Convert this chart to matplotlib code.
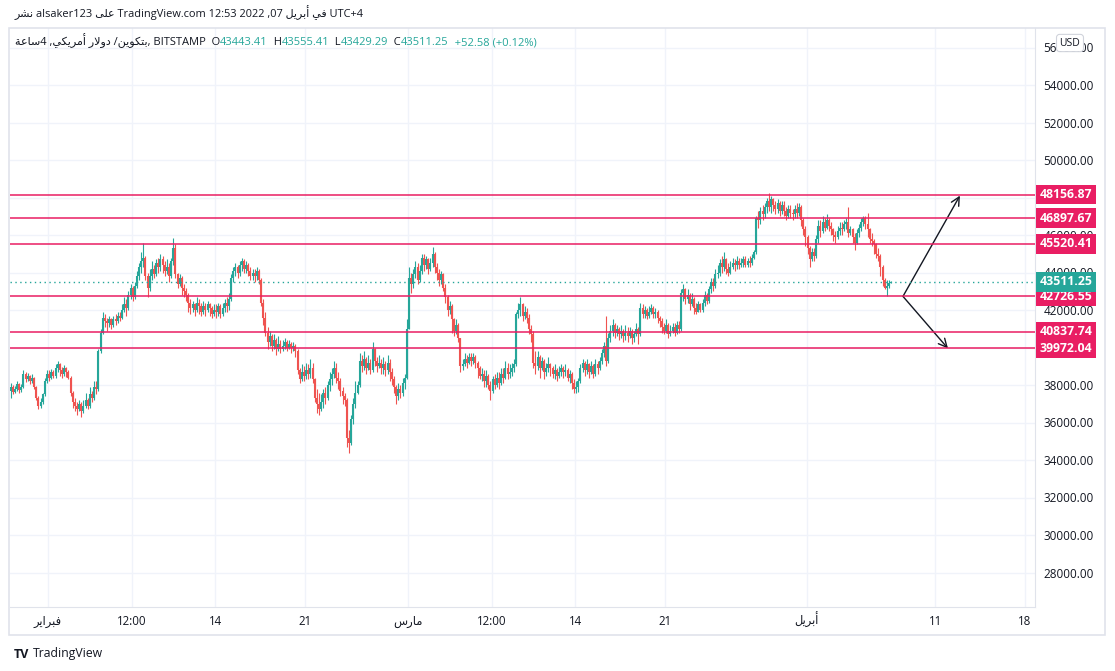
import matplotlib
matplotlib.use('Agg')
import matplotlib.pyplot as plt
import matplotlib.transforms as mtransforms
from matplotlib.patches import Rectangle
import numpy as np

plt.rcParams['font.family'] = ['Open Sans', 'DejaVu Sans']

# 4h BTC/USD candles, Jan 29 00:00 -> Apr 7 12:00 (UTC+4)
first_open = 37700
closes = [
    37900, 37650, 37800, 38050, 37750, 37900,
    38600, 38300, 38500, 38200, 38400, 37900,
    37300, 36900, 37100, 37500, 38200, 38600,
    38400, 38700, 38500, 38900, 39100, 38800,
    38600, 38900, 38700, 38400, 37600, 37100,
    36900, 36700, 37000, 36600, 36900, 37200,
    36900, 37500, 37300, 37900, 37800, 39800,
    40800, 41600, 41400, 41300, 41500, 41200,
    41500, 41400, 41700, 41600, 42000, 42300,
    42100, 42800, 43200, 42700, 43300, 43800,
    44300, 44600, 44800, 43800, 43200, 43800,
    44200, 43900, 44500, 44300, 44700, 44400,
    44100, 44300, 43800, 44600, 45300, 43900,
    43400, 43700, 43200, 43000, 42800, 42400,
    42100, 42300, 42000, 42400, 42200, 41900,
    42200, 42000, 42300, 42100, 41800, 42000,
    41900, 42200, 41800, 42100, 42400, 42200,
    42600, 43700, 44100, 44300, 44000, 44400,
    44600, 44200, 44400, 44100, 43800, 44000,
    43800, 44100, 43600, 42400, 41600, 40800,
    40300, 40600, 40100, 40400, 39900, 40200,
    39900, 40100, 40300, 40000, 40200, 40000,
    40100, 39800, 38800, 38300, 38700, 38500,
    38800, 38600, 38900, 38300, 37300, 37000,
    36700, 37100, 37600, 37300, 38000, 38300,
    38600, 38900, 38400, 38200, 37700, 37400,
    37200, 35200, 34900, 36200, 37000, 37600,
    38000, 39300, 39000, 39400, 38900, 39200,
    38800, 39900, 39300, 39000, 39200, 38900,
    39100, 38800, 39200, 38700, 38300, 37900,
    37400, 37800, 37600, 38100, 38400, 41000,
    43700, 43400, 43900, 44300, 43600, 44100,
    44800, 44400, 44700, 44200, 44500, 45000,
    44300, 44000, 43600, 43900, 43200, 42700,
    42000, 42200, 41500, 40900, 41200, 40500,
    39000, 39100, 39400, 39200, 39500, 39300,
    39500, 39200, 38900, 38500, 38600, 38200,
    38500, 38000, 37700, 38300, 38000, 38400,
    38100, 38600, 38400, 38900, 38600, 38700,
    38900, 39100, 41800, 42000, 42300, 41700,
    41900, 41600, 41000, 40700, 39200, 39000,
    39500, 38900, 39300, 38700, 38900, 39100,
    38900, 38600, 38800, 38500, 38700, 38900,
    38700, 38800, 38400, 38600, 38100, 37800,
    37900, 38200, 38900, 39200, 38800, 39100,
    38700, 39000, 38600, 39100, 38900, 39300,
    39700, 40100, 39300, 40500, 40900, 41200,
    40800, 41000, 40700, 40900, 40600, 40800,
    40600, 40900, 40500, 40700, 41000, 40700,
    42100, 41800, 42000, 41700, 41900, 42100,
    41800, 41900, 41600, 41400, 41100, 40900,
    41200, 40700, 40900, 41100, 40800, 41200,
    41000, 42900, 43100, 42600, 42800, 42300,
    42600, 42100, 41900, 42300, 42000, 42400,
    42800, 42500, 43100, 43500, 43300, 43900,
    44000, 44500, 44300, 44700, 44200, 44000,
    44300, 44500, 44400, 44600, 44400, 44500,
    44700, 44400, 44600, 44500, 44800, 45100,
    46900, 46800, 47300, 47100, 47500, 47800,
    47500, 47900, 47600, 47400, 47700, 47300,
    47600, 47300, 47000, 47400, 47200, 47100,
    47400, 47200, 47500, 46800, 46300, 45900,
    45300, 44700, 45100, 44900, 45800, 46500,
    46200, 46700, 46400, 46800, 46500, 46300,
    46000, 45900, 46200, 46400, 46300, 46600,
    46700, 46100, 46300, 45900, 45600, 46100,
    46400, 46700, 46900, 46600, 46300, 45800,
    45700, 45500, 45000, 44900, 44300, 43600,
    43200, 43300, 43443.41, 43511.25,
]
highs = [
    38100, 38000, 37950, 38200, 38100, 38050,
    38800, 38700, 38650, 38550, 38600, 38450,
    37950, 37400, 37300, 37600, 38400, 38800,
    38800, 38850, 38800, 39100, 39300, 39200,
    38950, 39050, 38950, 38800, 38500, 37700,
    37300, 37100, 37200, 37100, 37200, 37600,
    37300, 37900, 37700, 38200, 38200, 39900,
    41000, 41900, 41800, 41600, 41700, 41600,
    41700, 41800, 41900, 41900, 42300, 42700,
    42600, 43000, 43400, 43300, 43500, 44100,
    44500, 45100, 45550, 44900, 44000, 44200,
    44600, 44400, 44700, 44800, 45000, 44900,
    44600, 44700, 44500, 44800, 45850, 45500,
    44000, 43900, 43800, 43400, 43200, 42900,
    42600, 42500, 42400, 42700, 42600, 42400,
    42500, 42400, 42500, 42400, 42200, 42300,
    42300, 42400, 42300, 42400, 42600, 42700,
    42900, 43900, 44300, 44500, 44400, 44600,
    44800, 44700, 44600, 44500, 44300, 44200,
    44200, 44300, 44200, 43700, 42600, 41900,
    41100, 40900, 40700, 40700, 40500, 40600,
    40400, 40400, 40500, 40400, 40400, 40300,
    40300, 40200, 39900, 38900, 39100, 39000,
    39200, 39100, 39400, 39200, 38400, 37800,
    37600, 37500, 37800, 37900, 38200, 38700,
    38900, 39300, 39200, 38700, 38400, 37900,
    37600, 37300, 35600, 36400, 37300, 38200,
    38200, 39700, 39600, 39800, 39500, 39600,
    39400, 40300, 40000, 39500, 39600, 39400,
    39500, 39300, 39600, 39400, 38900, 38500,
    38000, 38100, 38000, 38400, 38600, 41500,
    44300, 44000, 44200, 44600, 44500, 44400,
    45000, 45000, 44900, 44800, 44800, 45350,
    45100, 44500, 44200, 44100, 44000, 43400,
    42800, 42500, 42300, 41600, 41500, 41300,
    40500, 39400, 39700, 39600, 39700, 39700,
    39700, 39600, 39300, 39000, 38900, 38800,
    38800, 38600, 38200, 38500, 38600, 38700,
    38700, 38900, 38900, 39300, 39200, 39100,
    39200, 39400, 41900, 42400, 42700, 42400,
    42200, 42100, 41800, 41200, 40900, 39800,
    39800, 39600, 39500, 39400, 39200, 39500,
    39200, 39000, 39100, 38900, 39000, 39100,
    39000, 39100, 38900, 38800, 38700, 38300,
    38200, 38400, 39100, 39400, 39300, 39400,
    39200, 39300, 39100, 39400, 39300, 39500,
    39900, 40300, 41700, 40800, 41200, 41500,
    41300, 41200, 41100, 41200, 41000, 41200,
    41100, 41100, 41000, 40900, 41300, 41100,
    42400, 42300, 42200, 42100, 42200, 42300,
    42200, 42100, 42000, 41700, 41600, 41300,
    41500, 41300, 41200, 41300, 41300, 41400,
    41400, 43100, 43400, 43200, 43100, 42900,
    42900, 42700, 42400, 42500, 42400, 42600,
    43000, 42900, 43300, 43700, 43700, 44200,
    44400, 44700, 44900, 45100, 44800, 44500,
    44600, 44800, 44700, 44900, 44800, 44800,
    44900, 44900, 44800, 44900, 45000, 45200,
    47000, 47300, 47500, 47600, 47700, 48000,
    48250, 48100, 48000, 47800, 47900, 47800,
    47800, 47800, 47500, 47600, 47600, 47400,
    47600, 47700, 47700, 47600, 46900, 46500,
    46000, 45400, 45300, 45300, 46000, 46800,
    46800, 47000, 46900, 47100, 46900, 46700,
    46400, 46200, 46500, 46700, 46700, 46800,
    46900, 47500, 46500, 46400, 46100, 46300,
    46600, 46900, 47000, 47000, 47200, 46400,
    46100, 45800, 45600, 45300, 45000, 44400,
    43700, 43600, 43600, 43555.41,
]
lows = [
    37300, 37500, 37550, 37700, 37600, 37650,
    37850, 38150, 38200, 38050, 38100, 37800,
    37200, 36700, 36800, 37000, 37400, 38100,
    38200, 38300, 38350, 38400, 38700, 38500,
    38400, 38500, 38450, 38300, 37400, 36800,
    36600, 36400, 36600, 36300, 36500, 36800,
    36700, 36800, 37100, 37200, 37500, 37700,
    39700, 40700, 41100, 40900, 41100, 41000,
    41100, 41200, 41300, 41400, 41500, 41900,
    41700, 42000, 42600, 42500, 42600, 43200,
    43600, 44000, 44300, 43600, 42700, 43000,
    43600, 43700, 43800, 44000, 44100, 44000,
    43800, 43900, 43500, 43700, 44400, 43700,
    43200, 43300, 42800, 42700, 42500, 41900,
    41800, 41900, 41700, 41900, 41800, 41700,
    41800, 41700, 41900, 41700, 41600, 41700,
    41600, 41700, 41600, 41700, 41900, 41900,
    42000, 42500, 43500, 43800, 43700, 43800,
    44100, 44000, 44000, 43800, 43600, 43600,
    43500, 43600, 43400, 42200, 41200, 40600,
    39900, 40100, 39800, 39900, 39600, 39800,
    39700, 39800, 39900, 39800, 39900, 39700,
    39800, 39500, 38600, 38100, 38200, 38200,
    38300, 38300, 38400, 38100, 37100, 36500,
    36400, 36600, 36800, 37000, 37200, 37700,
    38000, 38400, 38100, 37800, 37400, 37000,
    36900, 34700, 34400, 34800, 35900, 36800,
    37500, 37900, 38700, 38800, 38600, 38800,
    38600, 38700, 39000, 38700, 38900, 38600,
    38600, 38500, 38600, 38200, 38000, 37600,
    37000, 37200, 37300, 37400, 37800, 38300,
    41000, 42900, 43200, 43700, 43400, 43500,
    43900, 44100, 44200, 43900, 44100, 44300,
    44000, 43600, 43300, 43400, 43000, 42400,
    41700, 41800, 40800, 40600, 40700, 40300,
    38700, 38800, 39000, 38900, 39100, 39000,
    39100, 38900, 38400, 38300, 38200, 37900,
    37900, 37800, 37200, 37600, 37800, 37900,
    37800, 38000, 38100, 38300, 38300, 38400,
    38500, 38700, 39000, 41600, 41700, 41400,
    41500, 41300, 40700, 40300, 38900, 38600,
    38800, 38400, 38800, 38300, 38500, 38700,
    38500, 38400, 38300, 38200, 38400, 38500,
    38400, 38500, 38200, 38100, 37800, 37600,
    37600, 37650, 38100, 38700, 38500, 38600,
    38400, 38600, 38400, 38500, 38600, 38800,
    39100, 39500, 39000, 39200, 40300, 40600,
    40500, 40600, 40400, 40500, 40300, 40400,
    40300, 40500, 40200, 40300, 40600, 40200,
    40600, 41600, 41600, 41500, 41600, 41800,
    41600, 41600, 41300, 41100, 40800, 40700,
    40800, 40500, 40600, 40800, 40600, 40700,
    40800, 40900, 42500, 42300, 42400, 42000,
    42200, 41800, 41800, 41900, 41900, 41900,
    42200, 42300, 42400, 42900, 43000, 43200,
    43700, 43800, 44000, 44100, 43900, 43800,
    43900, 44200, 44100, 44200, 44200, 44300,
    44300, 44300, 44300, 44300, 44400, 44700,
    45000, 46400, 46600, 46800, 46900, 47200,
    47300, 47200, 47300, 47100, 47200, 47000,
    47100, 47000, 46800, 46900, 46900, 46800,
    46900, 46900, 47000, 46500, 46000, 45400,
    45000, 44300, 44600, 44600, 44800, 45600,
    45900, 46100, 46200, 46300, 46200, 46000,
    45700, 45600, 45800, 46000, 46000, 46200,
    46300, 45900, 46000, 45600, 45200, 45500,
    45900, 46200, 46500, 46300, 45900, 45600,
    45400, 45000, 44800, 44600, 43800, 43300,
    43100, 42750, 43200, 43429.29,
]

levels = [48156.87, 46897.67, 45520.41, 42726.55, 40837.74, 39972.04]
last_price = 43511.25

# Arabic words written in presentation forms, visual order
feb = '\uFEAE\uFEF3\uFE8D\uFEAE\uFE92\uFED3'
mar = '\uFEB1\uFEAD\uFE8E\uFEE3'
apr = '\uFEDE\uFEF3\uFEAE\uFE91\uFE83'
bitcoin = '\uFEE6\uFEF3\uFEEE\uFEDC\uFE98\uFE91'
dollar = '\uFEAD\uFEFB\uFEED\uFEA9'
american = '\uFEF2\uFEDC\uFEF3\uFEAE\uFEE3\uFE83'
hour = '\uFE94\uFECB\uFE8E\uFEB3'
published = '\uFEAE\uFEB8\uFEE7'
on_word = '\uFEF0\uFEE0\uFECB'
in_word = '\uFEF2\uFED3'

# days since Feb 1 00:00
tick_days = [0, 6.5, 13, 20, 28, 34.5, 41, 48, 59, 69, 76]
tick_labels = [feb, '12:00', '14', '21', mar, '12:00', '14', '21', apr, '11', '18']
price_ticks = list(range(28000, 58000, 2000))

# hand-drawn arrows (day, price)
arrow_start = (66.5, 42726.55)
arrow_ends = [(70.93, 48100), (70.0, 39950)]

UP = '#26a69a'
DOWN = '#ef5350'
LEVEL = '#e91e63'
TXT = '#131722'
GRID = '#f0f3fa'
BORDER = '#e0e3eb'

W, H = 1115, 671
fig = plt.figure(figsize=(W / 100, H / 100), dpi=100)
fx = lambda px: px / W
fy = lambda py: 1 - py / H

ax = fig.add_axes([fx(10), fy(607), fx(1035) - fx(10), fy(28) - fy(607)])
ax.set_xlim(-2.956, 76.77)
ax.set_ylim(26160, 57040)

n = len(closes)
x = -3 + np.arange(n) / 6 + 1 / 12
c = np.array(closes, dtype=float)
o = np.concatenate([[first_open], c[:-1]])
hi = np.maximum(np.array(highs, dtype=float), np.maximum(o, c))
lo = np.minimum(np.array(lows, dtype=float), np.minimum(o, c))
cols = np.where(c >= o, UP, DOWN)

ax.vlines(x, lo, hi, colors=cols, linewidth=0.8, zorder=3)
ax.vlines(x, o, c, colors=cols, linewidth=1.5, zorder=3)

trans = mtransforms.blended_transform_factory(ax.transAxes, ax.transData)
for lv in levels:
    ax.axhline(lv, color=LEVEL, lw=1.1, zorder=4)
    ax.text(1.0045, lv, f'{lv:.2f}', transform=trans, ha='left', va='center',
            color='white', fontsize=8.8, fontweight='bold', clip_on=False, zorder=6,
            bbox=dict(boxstyle='square,pad=0.28', fc=LEVEL, ec='none'))

ax.axhline(last_price, color=UP, lw=1.0, ls=(0, (1, 2.5)), zorder=4)
ax.text(1.0045, last_price, f'{last_price:.2f}', transform=trans, ha='left', va='center',
        color='white', fontsize=8.8, fontweight='bold', clip_on=False, zorder=6,
        bbox=dict(boxstyle='square,pad=0.28', fc=UP, ec='none'))

for end in arrow_ends:
    ax.annotate('', xy=end, xytext=arrow_start,
                arrowprops=dict(arrowstyle='->', color=TXT, lw=1.0,
                                mutation_scale=15, shrinkA=0, shrinkB=0))

ax.set_yticks(price_ticks)
ax.set_yticklabels([f'{v}.00' for v in price_ticks])
ax.yaxis.tick_right()
ax.set_xticks(tick_days)
ax.set_xticklabels(tick_labels)
ax.tick_params(axis='y', length=0, pad=6, labelsize=8.5, labelcolor=TXT)
ax.tick_params(axis='x', length=0, pad=13, labelsize=8.3, labelcolor=TXT)
for lbl in ax.get_xticklabels():
    lbl.set_verticalalignment('baseline')
ax.grid(True, color=GRID, lw=1)
ax.set_axisbelow(True)
for s in ['left', 'top']:
    ax.spines[s].set_visible(False)
for s in ['right', 'bottom']:
    ax.spines[s].set_color(BORDER)

fig.patches.append(Rectangle((fx(9), fy(635)), fx(1105) - fx(9), fy(28) - fy(635),
                             transform=fig.transFigure, fill=False, ec=BORDER, lw=1.2))

# USD badge over the top price label
fig.text(fx(1070), fy(43), 'USD', ha='center', va='center', fontsize=7.5, color=TXT,
         bbox=dict(boxstyle='round,pad=0.3,rounding_size=0.3', fc='white', ec='#d1d4dc', lw=0.8))

# header
fig.text(fx(15), fy(13),
         f'{published} alsaker123 {on_word} TradingView.com 12:53 2022 ,07 {apr} {in_word} UTC+4',
         fontsize=7.9, va='center', color=TXT)

pieces = [(f'{hour}4 ,{american} {dollar} /{bitcoin}, BITSTAMP  O', TXT), ('43443.41', UP),
          ('  H', TXT), ('43555.41', UP), ('  L', TXT), ('43429.29', UP),
          ('  C', TXT), ('43511.25', UP), ('  +52.58 (+0.12%)', UP)]
prev = fig.text(fx(15), fy(41), pieces[0][0], fontsize=8.0, va='center', color=pieces[0][1])
for txt, col in pieces[1:]:
    prev = ax.annotate(txt, xy=(1, 0), xycoords=prev, ha='left', va='bottom',
                       fontsize=8.0, color=col, annotation_clip=False)

# footer logo
fig.text(fx(14), fy(654), 'TV', fontsize=9, fontweight='bold', va='center', color=TXT)
fig.text(fx(33), fy(654), 'TradingView', fontsize=8.8, va='center', color=TXT)

fig.savefig('out.png', dpi=100, facecolor='white')
